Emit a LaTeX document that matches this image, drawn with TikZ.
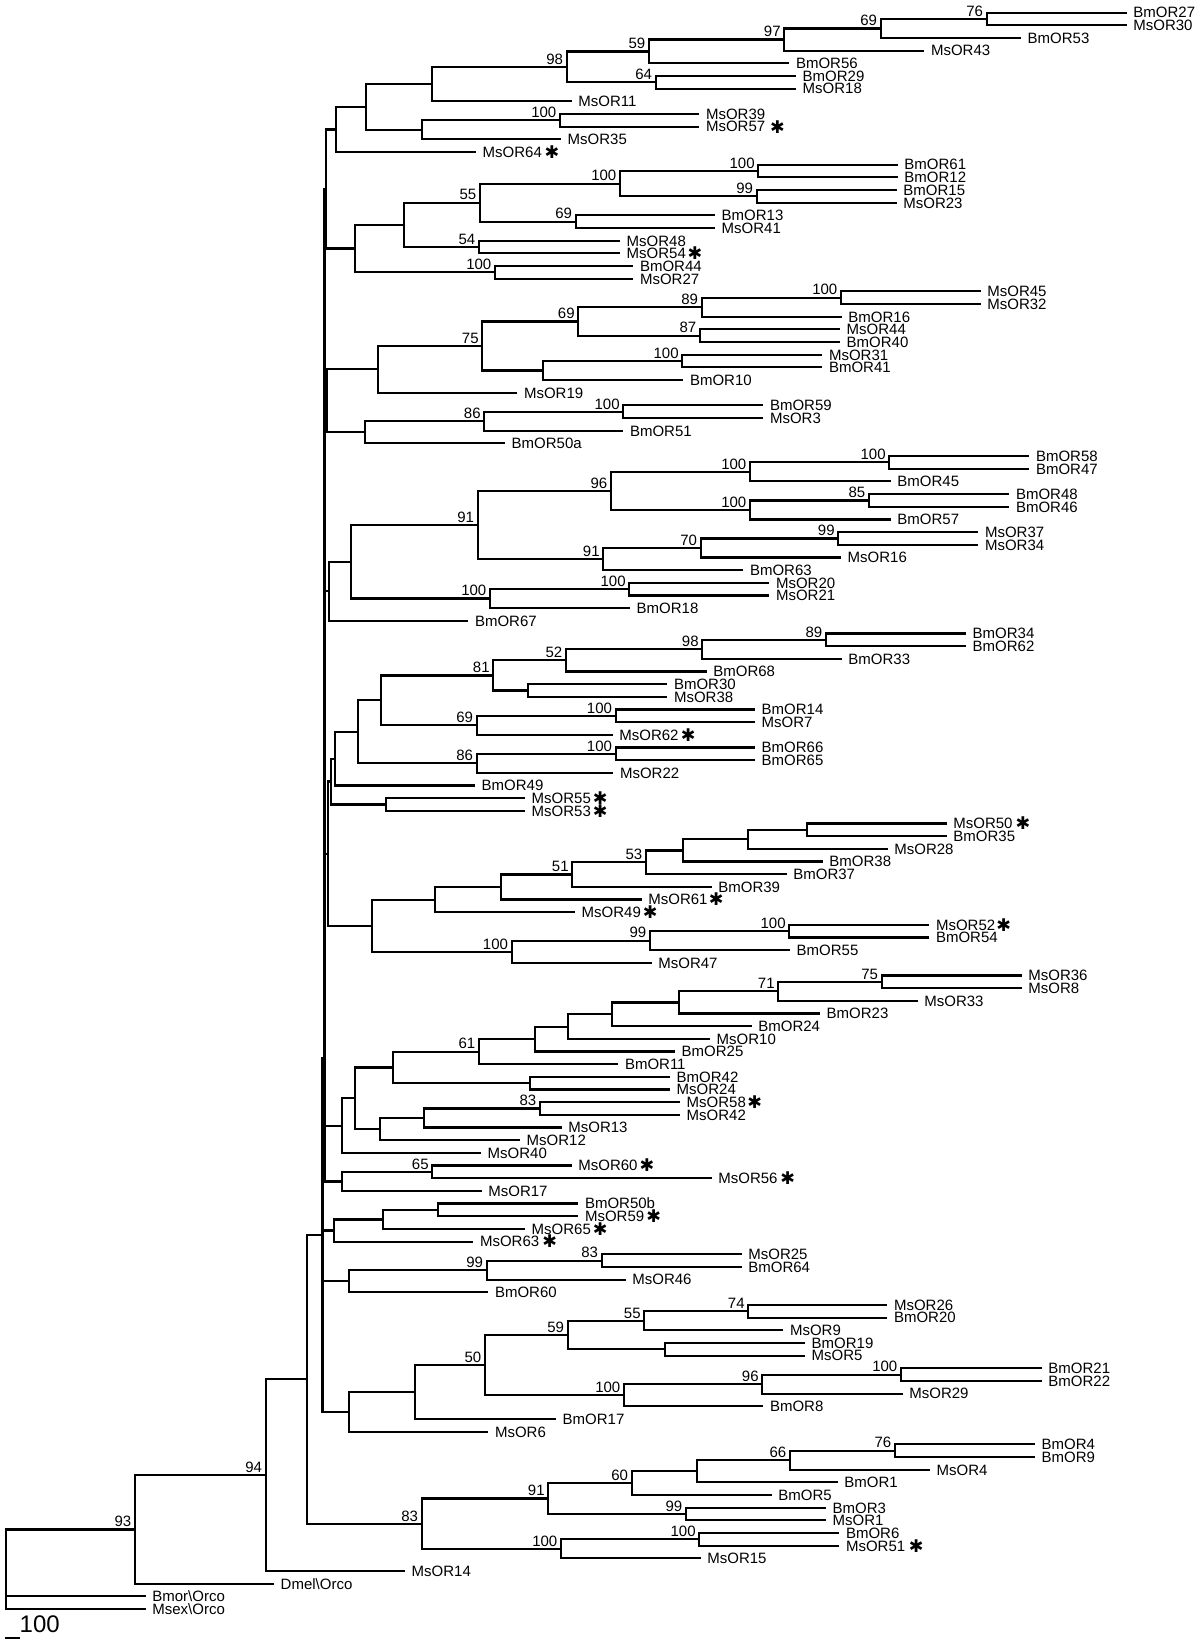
\documentclass[tikz,border=0pt]{standalone}
\usepackage{fontspec}
\setmainfont{Liberation Sans}
\newfontfamily\astfont{DejaVu Sans}
\usepackage{tikz}
\usetikzlibrary{positioning, calc}
\newcommand{\hast}{{\astfont\fontsize{17.5}{17.5}\selectfont ✱}}

\begin{document}
\begin{tikzpicture}[
  x=1pt, y=-1pt,
  font=\fontsize{15}{15}\selectfont,
  br/.style  ={line width=2.2pt},
  leaf/.style={inner sep=0pt, text height=10.7pt, text depth=0pt},
  boot/.style={inner sep=0pt, anchor=south east, xshift=-3.5pt, yshift=2.5pt, text depth=0pt},
  ast/.style ={inner sep=0pt}
]
\useasboundingbox (0,0) rectangle (1200,1641);
% ---- Leaves (row / end of branch / name) -----------------------------------
\foreach \row/\xe/\lab in {
  0/1126.7/BmOR27, 1/1126.7/MsOR30, 2/1021/BmOR53, 3/924.3/MsOR43,
  4/789.3/BmOR56, 5/796/BmOR29, 6/796/MsOR18, 7/571.7/MsOR11,
  8/699.3/MsOR39, 9/699.3/MsOR57, 10/561/MsOR35, 11/476/MsOR64,
  12/897.7/BmOR61, 13/897.7/BmOR12, 14/896.7/BmOR15, 15/896.7/MsOR23,
  16/715/BmOR13, 17/715/MsOR41, 18/620/MsOR48, 19/620/MsOR54,
  20/633.3/BmOR44, 21/633.3/MsOR27, 22/980.7/MsOR45, 23/980.7/MsOR32,
  24/841.7/BmOR16, 25/840/MsOR44, 26/840/BmOR40, 27/822.3/MsOR31,
  28/822.3/BmOR41, 29/683.3/BmOR10, 30/517.3/MsOR19, 31/763.3/BmOR59,
  32/763.3/MsOR3, 33/623.3/BmOR51, 34/505/BmOR50a, 35/1029.3/BmOR58,
  36/1029.3/BmOR47, 37/890.7/BmOR45, 38/1009.3/BmOR48, 39/1009.3/BmOR46,
  40/890.7/BmOR57, 41/978.3/MsOR37, 42/978.3/MsOR34, 43/841/MsOR16,
  44/743.3/BmOR63, 45/769.3/MsOR20, 46/769.3/MsOR21, 47/630/BmOR18,
  48/468.3/BmOR67, 49/966/BmOR34, 50/966/BmOR62, 51/841.7/BmOR33,
  52/706.7/BmOR68, 53/667.3/BmOR30, 54/667.3/MsOR38, 55/755/BmOR14,
  56/755/MsOR7, 57/612.7/MsOR62, 58/755/BmOR66, 59/755/BmOR65,
  60/613.3/MsOR22, 61/475/BmOR49, 62/525/MsOR55, 63/525/MsOR53,
  64/946.7/MsOR50, 65/946.7/BmOR35, 66/887.7/MsOR28, 67/822.7/BmOR38,
  68/786.7/BmOR37, 69/711.7/BmOR39, 70/641.7/MsOR61, 71/575/MsOR49,
  72/929.3/MsOR52, 73/929.3/BmOR54, 74/790/BmOR55, 75/651.7/MsOR47,
  76/1021.7/MsOR36, 77/1021.7/MsOR8, 78/917.7/MsOR33, 79/820/BmOR23,
  80/751.7/BmOR24, 81/710/MsOR10, 82/675/BmOR25, 83/618.3/BmOR11,
  84/670/BmOR42, 85/670/MsOR24, 86/680/MsOR58, 87/680/MsOR42,
  88/561.7/MsOR13, 89/520/MsOR12, 90/481/MsOR40, 91/571.7/MsOR60,
  92/711.7/MsOR56, 93/481.7/MsOR17, 94/578.3/BmOR50b, 95/578.3/MsOR59,
  96/525/MsOR65, 97/473.3/MsOR63, 98/741.7/MsOR25, 99/741.7/BmOR64,
  100/625.7/MsOR46, 101/488.3/BmOR60, 102/887.3/MsOR26, 103/887.3/BmOR20,
  104/783.3/MsOR9, 105/805/BmOR19, 106/805/MsOR5, 107/1041.7/BmOR21,
  108/1041.7/BmOR22, 109/902.7/MsOR29, 110/763.3/BmOR8, 111/556/BmOR17,
  112/488.3/MsOR6, 113/1035/BmOR4, 114/1035/BmOR9, 115/930/MsOR4,
  116/837.7/BmOR1, 117/771.7/BmOR5, 118/826/BmOR3, 119/826/MsOR1,
  120/839.3/BmOR6, 121/839.3/MsOR51, 122/700.7/MsOR15, 123/405/MsOR14,
  124/274/{Dmel\textbackslash Orco}, 125/145.7/{Bmor\textbackslash Orco},
  126/145.7/{Msex\textbackslash Orco}}{
  \coordinate (l\row) at (\xe, {12.6+12.67*\row});
  \node[leaf, right=6.5pt of l\row] (t\row) {\lab};
}
% ---- Internal nodes (name / x / upper child / lower child) -----------------
\foreach \nm/\xp/\ca/\cb in {
  n76a/986.7/l0/l1, n69a/880.7/n76a/l2, n97/784.3/n69a/l3, n59a/649/n97/l4,
  n64/655.7/l5/l6, n98a/566.7/n59a/n64, a4/431.7/n98a/l7, n100a/560/l8/l9,
  a5/421.7/n100a/l10, a3/366/a4/a5, a2/336/a3/l11,
  n100b1/758.3/l12/l13, n99b/756.7/l14/l15, n100b2/620/n100b1/n99b,
  n69b/575.7/l16/l17, n55b/480/n100b2/n69b, n54/479/l18/l19, b2/404.3/n55b/n54,
  n100b3/495/l20/l21, b1/355/b2/n100b3,
  n100c1/841/l22/l23, n89c/701.7/n100c1/l24, n87/700/l25/l26,
  n69c/578.3/n89c/n87, n100c2/682.3/l27/l28, c2/543.3/n100c2/l29,
  n75c/482.3/n69c/c2, c1/378.3/n75c/l30, n100c3/623.3/l31/l32,
  n86c/484.3/n100c3/l33, c3/365/n86c/l34,
  n100d1/889.3/l35/l36, n100d2/750/n100d1/l37, n85/869/l38/l39,
  n100d3/750/n85/l40, n96/611/n100d2/n100d3, n99d/838.3/l41/l42,
  n70/700.7/n99d/l43, n91d2/603.3/n70/l44, n91d1/477.7/n96/n91d2,
  n100d4/629.3/l45/l46, n100d5/490/n100d4/l47, d1/351/n91d1/n100d5,
  d0/329.3/d1/l48,
  n89e/826/l49/l50, n98e/702.3/n89e/l51, n52/566/n98e/l52, e4/527.7/l53/l54,
  n81/493.3/n52/e4, n100e1/615.7/l55/l56, n69e/476.7/n100e1/l57,
  e3/381/n81/n69e, n100e2/615.7/l58/l59, n86e/476.7/n100e2/l60,
  e2/357.7/e3/n86e, e1/335/e2/l61, e5/386/l62/l63, e0/330.7/e1/e5,
  f6/806.7/l64/l65, f5/748.3/f6/l66, f4/682.7/f5/l67, n53/646/f4/l68,
  n51/572.3/n53/l69, f3/500.7/n51/l70, f2/435/f3/l71, n100f1/789.3/l72/l73,
  n99f/650/n100f1/l74, n100f2/511.7/n99f/l75, f1/372.3/f2/n100f2,
  n75g/881.7/l76/l77, n71/778.3/n75g/l78, g8/679.3/n71/l79, g7/612.3/g8/l80,
  g6/567.7/g7/l81, g5/535/g6/l82, n61/479/g5/l83, g4/530/l84/l85,
  g2/393.3/n61/g4, n83g/540/l86/l87, g9/424/n83g/l88, g3/380/g9/l89,
  g1/355/g2/g3, g0/341.7/g1/l90,
  n65/432.3/l91/l92, h1/342.3/n65/l93,
  i3/438.3/l94/l95, i2/383.3/i3/l96, i1/334/i2/l97,
  n83j/601.7/l98/l99, n99j/486.7/n83j/l100, j1/349/n99j/l101,
  n74/748.3/l102/l103, n55k/644.3/n74/l104, k5/665/l105/l106,
  n59k/567.7/n55k/k5, n100k1/901/l107/l108, n96k/762.3/n100k1/l109,
  n100k2/624/n96k/l110, n50/485/n59k/n100k2, k2/415/n50/l111, k1/349/k2/l112,
  n76l/895/l113/l114, n66/790/n76l/l115, lx/697.3/n66/l116, n60/631.7/lx/l117,
  n99l/686/l118/l119, n91l/548.3/n60/n99l, n100l1/699.3/l120/l121,
  n100l2/561/n100l1/l122, n83l/421.7/n91l/n100l2,
  p1/326/a2/b1, p3/326.5/c1/c3, p5/328.3/e0/f1}{
  \path let \p1=($(\ca)!.5!(\cb)$) in (\xp,\y1) coordinate (\nm);
  \draw[br] (\nm) |- (\ca) (\nm) |- (\cb);
}
% ---- Backbone --------------------------------------------------------------
\coordinate (bbu) at (324.5,1058.4);
\foreach \c in {p1,p3,d0,p5,g0,h1} \draw[br] (bbu) |- (\c);
\coordinate (q1) at (322.5,1235);
\foreach \c in {bbu,i1,j1,k1} \draw[br] (q1) |- (\c);
\foreach \nm/\xp/\ca/\cb in {bb0/306.7/q1/n83l, n94/265.7/bb0/l123, n93/135/n94/l124}{
  \path let \p1=($(\ca)!.5!(\cb)$) in (\xp,\y1) coordinate (\nm);
  \draw[br] (\nm) |- (\ca) (\nm) |- (\cb);
}
\path let \p1=($(n93)!.5!(l126)$) in (6,\y1) coordinate (root);
\draw[br] (root) |- (n93) (root) |- (l125) (root) |- (l126);
% ---- Bootstrap values ------------------------------------------------------
\foreach \nm/\bv in {
  n76a/76, n69a/69, n97/97, n59a/59, n64/64, n98a/98, n100a/100,
  n100b1/100, n99b/99, n100b2/100, n69b/69, n55b/55, n54/54, n100b3/100,
  n100c1/100, n89c/89, n87/87, n69c/69, n100c2/100, n75c/75, n100c3/100, n86c/86,
  n100d1/100, n100d2/100, n85/85, n100d3/100, n96/96, n99d/99, n70/70,
  n91d2/91, n91d1/91, n100d4/100, n100d5/100,
  n89e/89, n98e/98, n52/52, n81/81, n100e1/100, n69e/69, n100e2/100, n86e/86,
  n53/53, n51/51, n100f1/100, n99f/99, n100f2/100,
  n75g/75, n71/71, n61/61, n83g/83, n65/65, n83j/83, n99j/99,
  n74/74, n55k/55, n59k/59, n100k1/100, n96k/96, n100k2/100, n50/50,
  n76l/76, n66/66, n60/60, n99l/99, n91l/91, n100l1/100, n100l2/100, n83l/83,
  n94/94, n93/93}
  \node[boot] (b\nm) at (\nm) {\bv};
% ---- Asterisks -------------------------------------------------------------
\foreach \row/\g in {9/4.5pt, 11/2.3pt, 19/1.3pt, 57/2pt, 62/1.7pt, 63/1.7pt,
  64/2.7pt, 70/1pt, 71/1.7pt, 72/0.7pt, 86/1pt, 91/1.7pt, 92/2.3pt, 95/1.7pt,
  96/1.7pt, 97/2.7pt, 121/3.4pt}
  \node[ast, right=\g of t\row] (s\row) {\hast};
% ---- Scale bar -------------------------------------------------------------
\coordinate (sba) at (5,1638.3);
\coordinate (sbb) at (20,1638.3);
\draw[br] (sba) -- (sbb);
\node[anchor=base west, inner sep=0pt, font=\fontsize{24}{24}\selectfont] (sbl) at (19.5,1632) {100};
\end{tikzpicture}
\end{document}
